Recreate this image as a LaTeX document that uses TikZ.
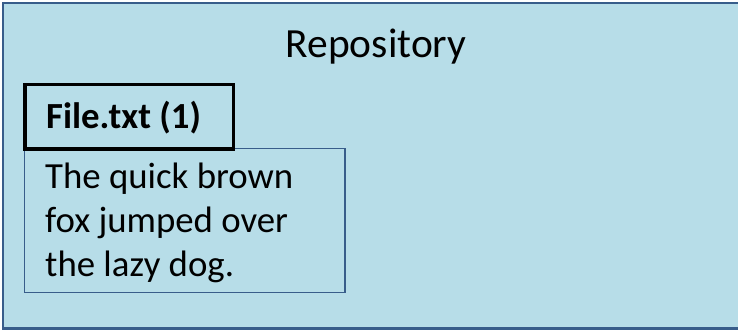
\documentclass[tikz,border=0pt]{standalone}
\usepackage{fontspec}
\setmainfont{Carlito}
\definecolor{repofill}{HTML}{B7DDE8}
\definecolor{repoline}{HTML}{385D8A}
\begin{document}
\begin{tikzpicture}[x=1pt,y=-1pt,
  repobox/.style={draw=repoline,line width=2.8pt,fill=repofill},
  labelbox/.style={draw=black,line width=3.2pt,inner sep=0pt,
    minimum width=208.5pt,minimum height=64.5pt},
  contentbox/.style={draw=repoline,line width=1.3pt,inner sep=0pt,
    minimum width=320.5pt,minimum height=144pt},
  txt/.style={inner sep=0pt,anchor=base west,font=\fontsize{36.8}{44}\selectfont}
]
\useasboundingbox (0,0) rectangle (738,329);
\begin{scope}
  \clip (0,0) rectangle (738,329);
  % repository frame
  \draw[repobox] (3,3) rectangle (745,328.5);
\end{scope}
\node[inner sep=0pt,anchor=base,font=\fontsize{41.5}{48}\selectfont] (title) at (376,58) {Repository};
% file contents
\node[contentbox] (content) at (184.75,220.75) {};
% file name tab
\node[labelbox] (filename) at (129.25,116.75) {};
\node[inner sep=0pt,anchor=base west,font=\fontsize{36.8}{44}\selectfont\bfseries] (fname) at (46,128) {File.txt (1)};
\node[txt] (l1) at (45,188) {The quick brown};
\node[txt] (l2) at (45,232) {fox jumped over};
\node[txt] (l3) at (45,276.5) {the lazy dog.};
\end{tikzpicture}
\end{document}
